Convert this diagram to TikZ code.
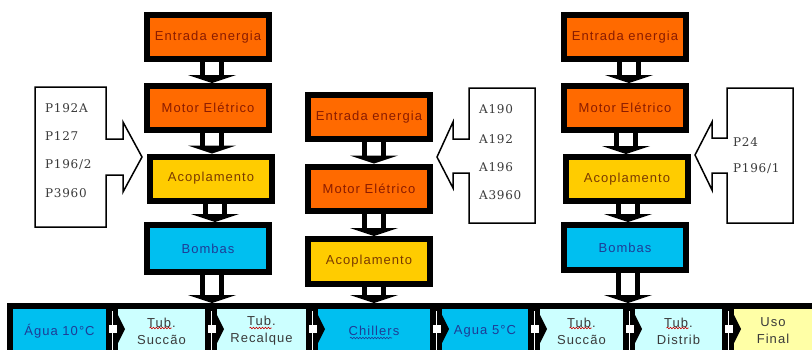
\documentclass[tikz,border=0pt]{standalone}
\usepackage{fontspec}
\setmainfont{Liberation Sans}
\newfontfamily\boxfont[LetterSpace=8]{Liberation Sans}
\newfontfamily\calfont[LetterSpace=6]{DejaVu Serif}
\usetikzlibrary{calc,decorations.pathmorphing}

\definecolor{orng}{HTML}{FF6A00}
\definecolor{gold}{HTML}{FFCC00}
\definecolor{cyanb}{HTML}{00BFF0}
\definecolor{lcyan}{HTML}{CCFFFF}
\definecolor{lyel}{HTML}{FFFFA6}
\definecolor{redtxt}{HTML}{8A1C00}
\definecolor{browntxt}{HTML}{7A3A00}
\definecolor{bluetxt}{HTML}{1E3C96}
\definecolor{graytxt}{HTML}{3A3A3A}

\newcommand\vconn[3][4]{%
  \path ($(#2.south)+(#1,0)$) coordinate (vs) (vs |- #3.north) coordinate (vt);
  \fill[white] ($(vs)+(-9.5,0)$) rectangle ($(vt)+(9.5,-7)$);
  \draw[shaftst] ($(vs)+(-9.5,0)$) -- ($(vt)+(-9.5,-7)$)
                 ($(vs)+(9.5,0)$) -- ($(vt)+(9.5,-7)$);
  \fill ($(vt)+(-24,-8)$) -- ($(vt)+(24,-8)$) -- (vt) -- cycle;
}
\newcommand\hconn[2]{%
  \draw[white, line width=1pt] ($(#1.east)+(0,-20)$) -- ($(#1.east)+(0,30)$);
  \fill[white] ($(#1.east)+(-3,-6)$) rectangle ($(#1.east)+(5,2)$);
  \fill ($(#2.west)+(6,-16)$) -- ($(#2.west)+(13,-2)$) -- ($(#2.west)+(6,12)$) -- cycle;
}

\begin{document}
\begin{tikzpicture}[x=1pt,y=-1pt,
  blkbox/.style={draw=black, line width=6pt, minimum width=122pt, minimum height=44pt,
    inner sep=0pt, font=\boxfont\fontsize{13}{15}\selectfont},
  orbox/.style={blkbox, fill=orng, text=redtxt},
  yebox/.style={blkbox, fill=gold, text=browntxt},
  cybox/.style={blkbox, fill=cyanb, text=bluetxt},
  botbox/.style={draw=black, line width=6pt, minimum height=50pt, inner sep=0pt,
    align=center, font=\boxfont\fontsize{13}{17}\selectfont},
  shaftst/.style={draw=black, line width=5pt},
  calline/.style={draw=black, line width=1.5pt, fill=white, line join=miter},
  caltxt/.style={anchor=west, inner sep=0pt, text=graytxt, font=\calfont\fontsize{12}{14}\selectfont},
  wavy/.style={line width=0.6pt, decorate, decoration={snake, amplitude=0.8pt, segment length=3pt}}
]
\useasboundingbox (0,0) rectangle (812,349);
\clip (0,0) rectangle (812,349);
\fill[white] (0,0) rectangle (812,349);

% callouts
\draw[calline] (35,87) -- (106,87) -- (106,139) -- (123,139) -- (123,122) -- (142,157)
  -- (123,192) -- (123,175) -- (106,175) -- (106,227) -- (35,227) -- cycle;
\node[caltxt] (p1) at (45,108) {P192A};
\node[caltxt] (p2) at (45,136) {P127};
\node[caltxt] (p3) at (45,165) {P196/2};
\node[caltxt] (p4) at (45,193) {P3960};

\draw[calline] (469,88) -- (535,88) -- (535,223) -- (469,223) -- (469,173) -- (453,173)
  -- (453,188) -- (437,157) -- (453,122) -- (453,139) -- (469,139) -- cycle;
\node[caltxt] (a1) at (479,109) {A190};
\node[caltxt] (a2) at (479,139) {A192};
\node[caltxt] (a3) at (479,167) {A196};
\node[caltxt] (a4) at (479,195) {A3960};

\draw[calline] (727,88) -- (793,88) -- (793,223) -- (727,223) -- (727,173) -- (712,173)
  -- (712,190) -- (695,155) -- (712,122) -- (712,138) -- (727,138) -- cycle;
\node[caltxt] (q1) at (733,142) {P24};
\node[caltxt] (q2) at (733,169) {P196/1};

% left column
\node[orbox] (le) at (208,37) {Entrada energia};
\node[orbox] (lm) at (208,108) {Motor Elétrico};
\node[yebox] (la) at (211,178.5) {Acoplamento};
\node[cybox, minimum height=47pt] (lb) at (208,248.5) {Bombas};

% centre column
\node[orbox] (ce) at (369,117) {Entrada energia};
\node[orbox] (cm) at (369,188.5) {Motor Elétrico};
\node[yebox, minimum height=45pt] (ca) at (369,261.5) {Acoplamento};

% right column
\node[orbox] (re) at (625,37) {Entrada energia};
\node[orbox] (rm) at (625,108) {Motor Elétrico};
\node[yebox] (ra) at (627,179) {Acoplamento};
\node[cybox, minimum height=45pt] (rb) at (625,247.5) {Bombas};

% bottom row
\node[botbox, fill=cyanb, text=bluetxt, minimum width=99pt] (w1) at (59.5,331) {Água 10°C};
\node[botbox, fill=lcyan, text=graytxt, minimum width=93pt] (w2) at (161.5,331) {Tub.\\Succão};
\node[botbox, fill=lcyan, text=graytxt, minimum width=95pt] (w3) at (261.5,331) {Tub.\\Recalque};
\node[botbox, fill=cyanb, text=bluetxt, minimum width=118pt] (w4) at (374,331) {Chillers};
\node[botbox, fill=cyanb, text=bluetxt, minimum width=92pt] (w5) at (485,331) {Agua 5°C};
\node[botbox, fill=lcyan, text=graytxt, minimum width=89pt] (w6) at (581.5,331) {Tub.\\Succão};
\node[botbox, fill=lcyan, text=graytxt, minimum width=93pt] (w7) at (678.5,331) {Tub.\\Distrib};
\node[botbox, fill=lyel, text=graytxt, minimum width=84pt] (w8) at (773,331) {Uso\\Final};

% spell-check underlines
\foreach \n in {w2,w3,w6,w7}
  \draw[wavy, red!80!black] ($(\n.center)+(-12,-3)$) -- ($(\n.center)+(10,-3)$);
\draw[wavy, bluetxt] ($(w4.center)+(-24,7)$) -- ($(w4.center)+(18,7)$);

% vertical connectors
\vconn{le}{lm}
\vconn{lm}{la}
\vconn{la}{lb}
\vconn{lb}{w3}
\vconn[5]{ce}{cm}
\vconn[5]{cm}{ca}
\vconn[5]{ca}{w4}
\vconn{re}{rm}
\vconn[1]{rm}{ra}
\vconn[1]{ra}{rb}
\vconn[3]{rb}{w7}

% horizontal connectors
\hconn{w1}{w2}
\hconn{w2}{w3}
\hconn{w3}{w4}
\hconn{w4}{w5}
\hconn{w5}{w6}
\hconn{w6}{w7}
\hconn{w7}{w8}
\end{tikzpicture}
\end{document}
